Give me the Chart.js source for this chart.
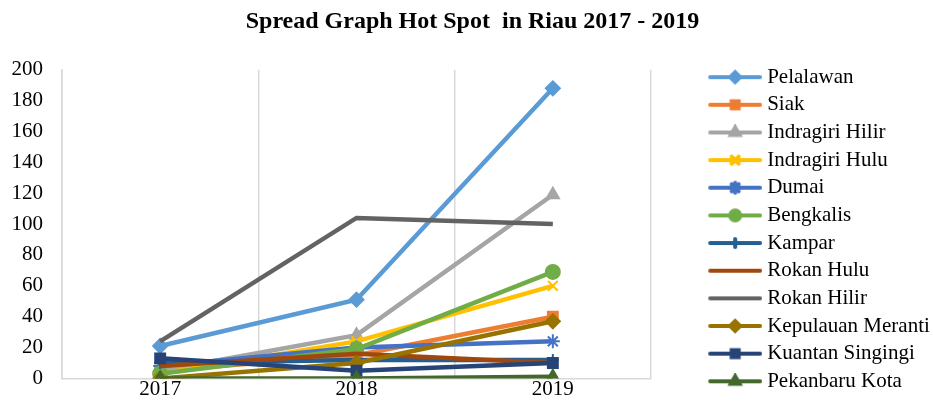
<!DOCTYPE html>
<html>
<head>
<meta charset="utf-8">
<script src="https://cdn.jsdelivr.net/npm/chart.js@4/dist/chart.umd.min.js"></script>
<style>
  html, body { margin: 0; padding: 0; background: #fff; }
  #wrap { width: 933px; height: 410px; position: relative; }
</style>
</head>
<body>
<div id="wrap"><canvas id="myChart"></canvas></div>
<script>
'use strict';

// chart data
const years = ['2017', '2018', '2019'];
const regions = ['Pelalawan', 'Siak', 'Indragiri Hilir', 'Indragiri Hulu', 'Dumai', 'Bengkalis',
                 'Kampar', 'Rokan Hulu', 'Rokan Hilir', 'Kepulauan Meranti', 'Kuantan Singingi', 'Pekanbaru Kota'];
const pelalawan = [21, 51, 188];
const siak = [5, 15, 40];
const indragiriHilir = [5, 28, 119];
const indragiriHulu = [3, 24, 60];
const dumai = [8, 20, 24];
const bengkalis = [3, 19, 69];
const kampar = [10, 12, 12];
const rokanHulu = [8, 16, 10];
const rokanHilir = [24, 104, 100];
const kepMeranti = [0, 10, 37];
const kuantanSingingi = [13, 5, 10];
const pekanbaru = [0, 0, 1];
const yTicks = [0, 20, 40, 60, 80, 100, 120, 140, 160, 180, 200];

const seriesValues = [pelalawan, siak, indragiriHilir, indragiriHulu, dumai, bengkalis,
                      kampar, rokanHulu, rokanHilir, kepMeranti, kuantanSingingi, pekanbaru];
const colors = ['#5B9BD5', '#ED7D31', '#A5A5A5', '#FFC000', '#4472C4', '#70AD47',
                '#255E91', '#9E480E', '#636363', '#997300', '#264478', '#43682B'];
const markers = ['rectRot', 'rect', 'triangle', 'crossRot', 'star', 'circle',
                 'cross', 'line', 'line', 'rectRot', 'rect', 'triangle'];
const markerSize = [7, 7, 7, 7, 7, 7, 6, 0, 0, 7, 7, 7];

const FONT = "'Liberation Serif', 'Times New Roman', serif";
const LEGEND_BOX = 99;    // legend swatch slot; its left part is empty room after the plot
const LEGEND_IMG = 110;   // swatch image, a bit wider so the line runs close to the text

// line + marker image for each legend entry
function legendImage(color, style, size) {
    const c = document.createElement('canvas');
    c.width = LEGEND_IMG; c.height = 16;
    const ctx = c.getContext('2d');
    const x0 = LEGEND_IMG - 54, x1 = LEGEND_IMG;
    ctx.strokeStyle = color;
    ctx.lineWidth = 4;
    ctx.lineCap = 'round';
    ctx.beginPath();
    ctx.moveTo(x0 + 2, 8); ctx.lineTo(x1 - 2, 8);
    ctx.stroke();
    if (size > 0) {
        ctx.fillStyle = color;
        ctx.strokeStyle = color;
        Chart.helpers.drawPoint(ctx, {pointStyle: style, radius: size - 2, rotation: 0, borderWidth: 2}, (x0 + x1) / 2, 8);
    }
    return c;
}

const datasets = regions.map(function (name, i) {
    return {
        label: name,
        data: seriesValues[i],
        borderColor: colors[i],
        backgroundColor: colors[i],
        borderWidth: 4.5,
        pointStyle: markers[i],
        pointRadius: markerSize[i],
        pointHoverRadius: markerSize[i],
        pointBorderWidth: 2,
        pointBorderColor: colors[i],
        pointBackgroundColor: colors[i],
        tension: 0,
        order: regions.length - i   // later series drawn on top, like the original
    };
});

const config = {
    type: 'line',
    data: { labels: years, datasets: datasets },
    options: {
        responsive: true,
        maintainAspectRatio: false,
        animation: false,
        layout: { padding: { left: 12, right: 0, top: 0, bottom: 10 } },
        plugins: {
            title: {
                display: true,
                text: 'Spread Graph Hot Spot  in Riau 2017 - 2019',
                color: '#000',
                font: { family: FONT, size: 24, weight: 'bold' },
                padding: { top: 7, bottom: 34 }
            },
            legend: {
                position: 'right',
                align: 'start',
                maxWidth: 282,
                title: { display: true, text: '', font: { size: 10 }, padding: { top: 48, bottom: 0 } },
                labels: {
                    color: '#000',
                    font: { family: FONT, size: 21 },
                    usePointStyle: true,
                    pointStyleWidth: LEGEND_BOX,
                    padding: 6.65,
                    generateLabels: function (chart) {
                        return chart.data.datasets.map(function (ds, i) {
                            return {
                                text: ds.label,
                                fillStyle: colors[i],
                                strokeStyle: colors[i],
                                lineWidth: 0,
                                pointStyle: legendImage(colors[i], markers[i], markerSize[i]),
                                hidden: false,
                                datasetIndex: i,
                                fontColor: '#000'
                            };
                        });
                    }
                }
            },
            tooltip: { enabled: false }
        },
        scales: {
            x: {
                offset: true,
                grid: { offset: true, color: '#D9D9D9', lineWidth: 1.5, drawTicks: false },
                border: { color: '#D9D9D9', width: 1.5 },
                ticks: { color: '#000', font: { family: FONT, size: 21 }, padding: -2 }
            },
            y: {
                min: 0,
                max: 200,
                afterBuildTicks: function (axis) {
                    axis.ticks = yTicks.map(function (v) { return { value: v }; });
                },
                afterFit: function (axis) { axis.width = 50; },
                grid: { display: false, drawTicks: false },
                border: { color: '#D9D9D9', width: 1.5 },
                ticks: { color: '#000', font: { family: FONT, size: 21 }, padding: 19 }
            }
        }
    }
};

const myChart = new Chart(document.getElementById('myChart'), config);
</script>
</body>
</html>
